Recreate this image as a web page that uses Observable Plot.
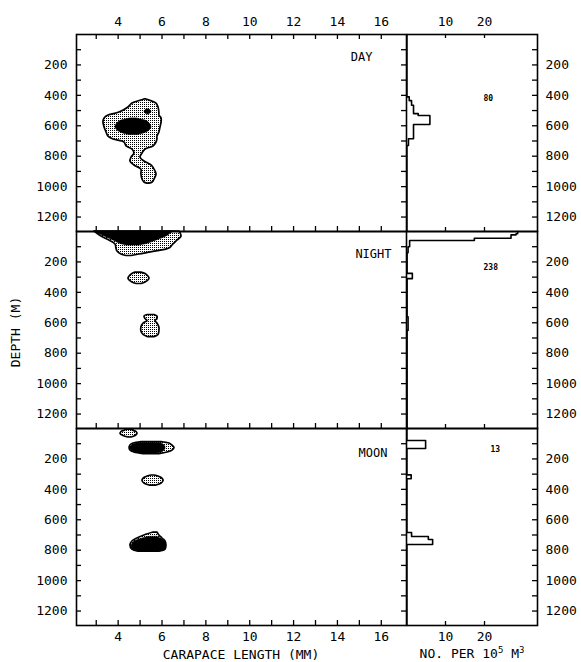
<!DOCTYPE html>
<html>
<head>
<meta charset="utf-8">
<script src="https://cdn.jsdelivr.net/npm/d3@7"></script>
<script src="https://cdn.jsdelivr.net/npm/@observablehq/plot@0.6"></script>
<style>
  html, body { margin: 0; padding: 0; background: white; }
  #wrap { position: relative; width: 581px; height: 662px; overflow: hidden; font-family: "DejaVu Sans Mono", monospace; color: black; }
  #wrap > .abs { position: absolute; }
  .lbl { font-size: 13px; white-space: nowrap; }
  sup { font-size: 9px; vertical-align: 5px; line-height: 0; }
</style>
</head>
<body>
<svg width="0" height="0" style="position:absolute">
  <defs>
    <pattern id="stip" width="2" height="2" patternUnits="userSpaceOnUse">
      <rect width="2" height="2" fill="white"/>
      <rect x="0" y="0" width="1" height="1" fill="black"/>
    </pattern>
  </defs>
</svg>
<div id="wrap"></div>
<script>
// ---------- data ----------
const periods = ["DAY", "NIGHT", "MOON"];
const lengthTickLabels = [4, 6, 8, 10, 12, 14, 16];
const abundanceTickLabels = [10, 20];
const depthTickLabels = [200, 400, 600, 800, 1000, 1200];
const totals = ["80", "238", "13"];

// blob outlines: [depth (m), carapace length left (mm), carapace length right (mm)]
const dayOuter = [
  [427, 5.20, 5.29], [434, 5.06, 5.43], [454, 4.65, 5.75], [480, 4.47, 5.84], [513, 4.06, 5.88],
  [533, 3.56, 5.88], [552, 3.38, 5.98], [579, 3.33, 5.98], [611, 3.38, 5.93], [644, 3.47, 5.88],
  [671, 3.56, 5.79], [690, 3.79, 5.79], [710, 4.29, 5.75], [736, 4.38, 5.61], [756, 4.65, 5.25],
  [782, 4.74, 5.11], [809, 4.61, 5.02], [835, 4.56, 5.20], [861, 4.74, 5.52], [888, 5.06, 5.66],
  [920, 5.06, 5.75], [953, 5.11, 5.66], [973, 5.20, 5.57], [980, 5.34, 5.43]
];
const dayCore = [
  [552, 4.56, 4.84], [559, 4.33, 5.06], [572, 4.06, 5.34], [592, 3.92, 5.47], [611, 3.88, 5.52],
  [631, 3.97, 5.43], [651, 4.24, 5.16], [661, 4.52, 4.88]
];
const dayDot = [[493, 5.29, 5.43], [507, 5.20, 5.52], [520, 5.25, 5.47], [526, 5.34, 5.38]];

const nightSurfaceOuter = [
  [0, 2.92, 6.80], [33, 3.24, 6.89], [59, 3.60, 6.71], [85, 3.88, 6.52], [112, 3.92, 6.34],
  [131, 3.97, 5.75], [151, 4.15, 4.97], [161, 4.38, 4.61]
];
const nightSurfaceCore = [
  [0, 2.92, 6.52], [33, 3.38, 6.20], [59, 3.79, 5.75], [79, 4.06, 5.38], [92, 4.38, 4.97]
];
const nightMid = [
  [270, 4.79, 5.06], [279, 4.65, 5.25], [296, 4.52, 5.38], [309, 4.47, 5.43], [322, 4.52, 5.38],
  [335, 4.65, 5.25], [345, 4.84, 5.06]
];
const nightDeep = [
  [549, 5.34, 5.66], [559, 5.20, 5.79], [576, 5.25, 5.79], [589, 5.34, 5.70], [605, 5.16, 5.79],
  [631, 5.06, 5.88], [657, 5.06, 5.88], [680, 5.16, 5.84], [694, 5.34, 5.66]
];

const moonTop = [[7, 4.33, 4.70], [13, 4.33, 4.65], [23, 4.15, 4.84], [36, 4.11, 4.88], [49, 4.24, 4.79], [59, 4.47, 4.61]];
const moonShallowOuter = [
  [89, 5.06, 5.98], [99, 4.70, 6.34], [112, 4.56, 6.48], [128, 4.52, 6.57], [145, 4.56, 6.48],
  [158, 4.74, 6.25], [168, 5.16, 5.88]
];
const moonShallowCore = [[95, 5.06, 5.84], [105, 4.70, 6.07], [128, 4.56, 6.16], [151, 4.65, 6.07], [164, 5.06, 5.79]];
const moonMid = [[309, 5.52, 5.66], [316, 5.34, 5.84], [329, 5.16, 6.02], [345, 5.11, 6.07], [362, 5.20, 5.98], [375, 5.43, 5.75]];
const moonDeepOuter = [
  [684, 5.61, 5.79], [703, 5.20, 5.88], [723, 4.88, 6.02], [743, 4.65, 6.16], [769, 4.56, 6.20],
  [796, 4.65, 6.16], [809, 4.93, 5.88]
];
const moonDeepCore = [[713, 5.38, 5.79], [730, 4.97, 6.02], [749, 4.70, 6.16], [776, 4.61, 6.20], [799, 4.70, 6.11], [809, 4.97, 5.84]];

// abundance profiles: [depth at top of step (m), number per 10^5 m^3]
const dayProfile = [[0, 0.1], [410, 0.7], [435, 1.3], [465, 1.8], [520, 3.0], [532, 6.0], [592, 1.8], [685, 0.5], [730, 0.1], [1295, 0.1]];
const nightProfile = [[0, 28.5], [15, 28.1], [22, 26.8], [44, 17.4], [59, 0.8], [100, 0.4], [140, 0.15], [275, 1.5], [310, 0.15], [560, 0.4], [650, 0.15], [1295, 0.15]];
const moonProfile = [[0, 0.1], [79, 4.9], [131, 0.1], [305, 1.2], [330, 0.1], [684, 1.3], [710, 5.6], [730, 6.7], [763, 0.1], [1295, 0.1]];

// ---------- tables ----------
const stippleBlobs = [
  {period: "DAY", id: "d-outer", rows: dayOuter},
  {period: "NIGHT", id: "n-surf", rows: nightSurfaceOuter},
  {period: "NIGHT", id: "n-mid", rows: nightMid},
  {period: "NIGHT", id: "n-deep", rows: nightDeep},
  {period: "MOON", id: "m-top", rows: moonTop},
  {period: "MOON", id: "m-shallow", rows: moonShallowOuter},
  {period: "MOON", id: "m-mid", rows: moonMid},
  {period: "MOON", id: "m-deep", rows: moonDeepOuter}
];
const blackBlobs = [
  {period: "DAY", id: "d-core", rows: dayCore},
  {period: "DAY", id: "d-dot", rows: dayDot},
  {period: "NIGHT", id: "n-core", rows: nightSurfaceCore},
  {period: "MOON", id: "m-shallow-core", rows: moonShallowCore},
  {period: "MOON", id: "m-deep-core", rows: moonDeepCore}
];
const toRows = list => list.flatMap(b => b.rows.map(([depth, lo, hi]) => ({period: b.period, id: b.id, depth, lo, hi})));
const profiles = [dayProfile, nightProfile, moonProfile].flatMap((p, i) =>
  p.map(([depth, value]) => ({period: periods[i], depth, value})));
const totalRows = periods.map((p, i) => ({period: p, text: totals[i]}));

// ---------- layout ----------
const FONT = "DejaVu Sans Mono, monospace";
const H = 662, MT = 34, MB = 37;
const FH = (H - MT - MB) / 3;
const LW = 406, LML = 76;          // left column
const RW = 175, RMR = 44;          // right column
const leftPanelW = LW - LML;
const rightPanelW = RW - RMR;
const depthTicks = d3.range(100, 1295, 100);
const fmt = d3.format("d");
const labelPos = {DAY: [-34, 18], NIGHT: [-15, 18], MOON: [-19, 20]};
const totalPos = {DAY: [77, 61], NIGHT: [77, 33], MOON: [84, 18]};

const left = Plot.plot({
  width: LW, height: H, marginLeft: LML, marginRight: 0, marginTop: MT, marginBottom: MB,
  style: {fontFamily: FONT, fontSize: "13px", color: "black", background: "transparent"},
  x: {domain: [2.1, 17.15]},
  y: {domain: [0, 1295], reverse: true},
  fy: {domain: periods, padding: 0, axis: null},
  marks: [
    Plot.areaX(toRows(stippleBlobs), {y: "depth", x1: "lo", x2: "hi", z: "id", fy: "period",
      fill: "url(#stip)", stroke: "black", strokeWidth: 1.7, curve: "catmull-rom"}),
    Plot.areaX(toRows(blackBlobs), {y: "depth", x1: "lo", x2: "hi", z: "id", fy: "period",
      fill: "black", stroke: "black", strokeWidth: 0.6, curve: "catmull-rom"}),
    Plot.frame({stroke: "black", strokeWidth: 1.6}),
    Plot.ruleX(d3.range(3, 17), {stroke: "black", strokeWidth: 1.3, insetTop: FH - 5}),
    Plot.ruleX(d3.range(3, 17), {fy: () => "DAY", stroke: "black", strokeWidth: 1.3, insetBottom: FH - 5}),
    Plot.ruleY(depthTicks, {stroke: "black", strokeWidth: 1.3, insetRight: leftPanelW - 5}),
    Plot.ruleY(depthTicks, {stroke: "black", strokeWidth: 1.3, insetLeft: leftPanelW - 5}),
    Plot.axisX({anchor: "top", ticks: lengthTickLabels, tickFormat: fmt, tickSize: 0, tickPadding: 9, label: null}),
    Plot.axisX({anchor: "bottom", ticks: lengthTickLabels, tickFormat: fmt, tickSize: 0, tickPadding: 6, label: null}),
    Plot.axisY({anchor: "left", ticks: depthTickLabels, tickFormat: fmt, tickSize: 0, tickPadding: 9, label: null}),
    ...periods.map(p => Plot.text([p], {fy: d => d, text: d => d, frameAnchor: "top-right",
      textAnchor: "end", dx: labelPos[p][0], dy: labelPos[p][1], fontSize: 12}))
  ]
});

const right = Plot.plot({
  width: RW, height: H, marginLeft: 0, marginRight: RMR, marginTop: MT, marginBottom: MB,
  style: {fontFamily: FONT, fontSize: "13px", color: "black", background: "transparent"},
  x: {domain: [0, rightPanelW / 3.9]},
  y: {domain: [0, 1295], reverse: true},
  fy: {domain: periods, padding: 0, axis: null},
  marks: [
    Plot.line(profiles, {x: "value", y: "depth", z: "period", fy: "period", curve: "step-before",
      stroke: "black", strokeWidth: 1.6}),
    Plot.frame({stroke: "black", strokeWidth: 1.6}),
    Plot.ruleX(abundanceTickLabels, {stroke: "black", strokeWidth: 1.3, insetTop: FH - 4}),
    Plot.ruleX(abundanceTickLabels, {fy: () => "DAY", stroke: "black", strokeWidth: 1.3, insetBottom: FH - 4}),
    Plot.ruleY(depthTicks, {stroke: "black", strokeWidth: 1.3, insetLeft: rightPanelW - 5}),
    Plot.axisX({anchor: "top", ticks: abundanceTickLabels, tickFormat: fmt, tickSize: 0, tickPadding: 9, label: null}),
    Plot.axisX({anchor: "bottom", ticks: abundanceTickLabels, tickFormat: fmt, tickSize: 0, tickPadding: 6, label: null}),
    Plot.axisY({anchor: "right", ticks: depthTickLabels, tickFormat: fmt, tickSize: 0, tickPadding: 8, label: null}),
    ...periods.map(p => Plot.text(totalRows.filter(r => r.period === p), {fy: "period", text: "text",
      frameAnchor: "top-left", dx: totalPos[p][0], dy: totalPos[p][1], fontSize: 8, fontWeight: "bold"}))
  ]
});

const wrap = document.getElementById("wrap");
left.classList.add("abs"); left.style.left = "0px"; left.style.top = "0px";
right.classList.add("abs"); right.style.left = LW + "px"; right.style.top = "0px";
wrap.appendChild(left);
wrap.appendChild(right);

function addLabel(html, x, y, rotate) {
  const d = document.createElement("div");
  d.className = "abs lbl";
  d.innerHTML = html;
  d.style.left = x + "px";
  d.style.top = y + "px";
  d.style.transform = "translate(-50%, -50%)" + (rotate ? " rotate(-90deg)" : "");
  wrap.appendChild(d);
}
addLabel("CARAPACE LENGTH (MM)", 241, 654);
addLabel("NO. PER 10<sup>5</sup> M<sup>3</sup>", 472, 653);
addLabel("DEPTH (M)", 15, 332, true);
</script>
</body>
</html>
